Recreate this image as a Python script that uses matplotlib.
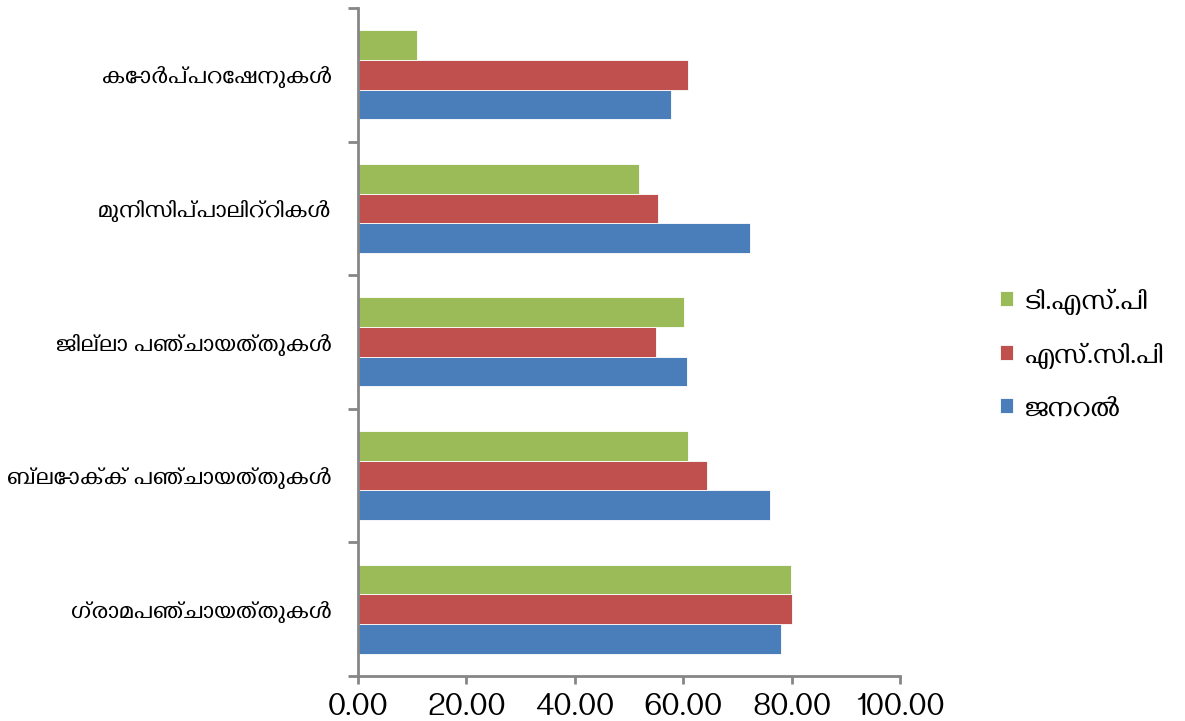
import numpy as np
import matplotlib
matplotlib.use("Agg")
import matplotlib.pyplot as plt

categories = ["ഗ്രാമപഞ്ചായത്തുകൾ", "ബ്ലോക്ക് പഞ്ചായത്തുകൾ", "ജില്ലാ പഞ്ചായത്തുകൾ",
              "മുനിസിപ്പാലിറ്റികൾ", "കോർപ്പറേഷനുകൾ"]
series_names = ["ജനറൽ", "എസ്.സി.പി", "ടി.എസ്.പി"]
general = [78.1, 76.0, 60.7, 72.3, 57.7]
scp = [80.1, 64.4, 54.9, 55.4, 60.9]
tsp = [79.9, 60.9, 60.1, 51.9, 10.9]
xticks = [0, 20, 40, 60, 80, 100]

colors = ["#4a7ebb", "#c0504d", "#9bbb59"]
axis_grey = "#868686"

plt.rcParams["font.family"] = ["Gayathri", "Noto Sans Malayalam", "DejaVu Sans"]

fig = plt.figure(figsize=(11.85, 7.21), dpi=100)
ax = fig.add_axes([0.302, 0.0624, 0.4575, 0.9266])

y = np.arange(len(categories))
h = 0.222
for i, (vals, name) in enumerate(zip([general, scp, tsp], series_names)):
    ax.barh(y + (i - 1) * h, vals, height=h, color=colors[i], label=name,
            edgecolor="white", linewidth=0.6)

ax.set_xlim(0, 100)
ax.set_ylim(-0.5, len(categories) - 0.5)
ax.set_xticks(xticks)
ax.set_xticklabels(["{:.2f}".format(v) for v in xticks], fontsize=23.5)
ax.set_yticks(y)
ax.set_yticklabels(categories, fontsize=18)
ax.set_yticks(np.arange(len(categories) + 1) - 0.5, minor=True)
ax.tick_params(axis="y", which="major", length=0, pad=19)
ax.tick_params(axis="y", which="minor", length=7, width=2, color=axis_grey)
ax.tick_params(axis="x", length=6, width=2, color=axis_grey, pad=6)

for s in ["top", "right"]:
    ax.spines[s].set_visible(False)
for s in ["left", "bottom"]:
    ax.spines[s].set_color(axis_grey)
    ax.spines[s].set_linewidth(2)

handles, labels = ax.get_legend_handles_labels()
ax.legend(handles[::-1], labels[::-1], loc="center left",
          bbox_to_anchor=(1.185, 0.48), frameon=False, fontsize=21,
          borderpad=0, borderaxespad=0,
          handlelength=0.43, handleheight=0.43, handletextpad=0.4,
          labelspacing=0.95)

fig.savefig("out.png", dpi=100)
